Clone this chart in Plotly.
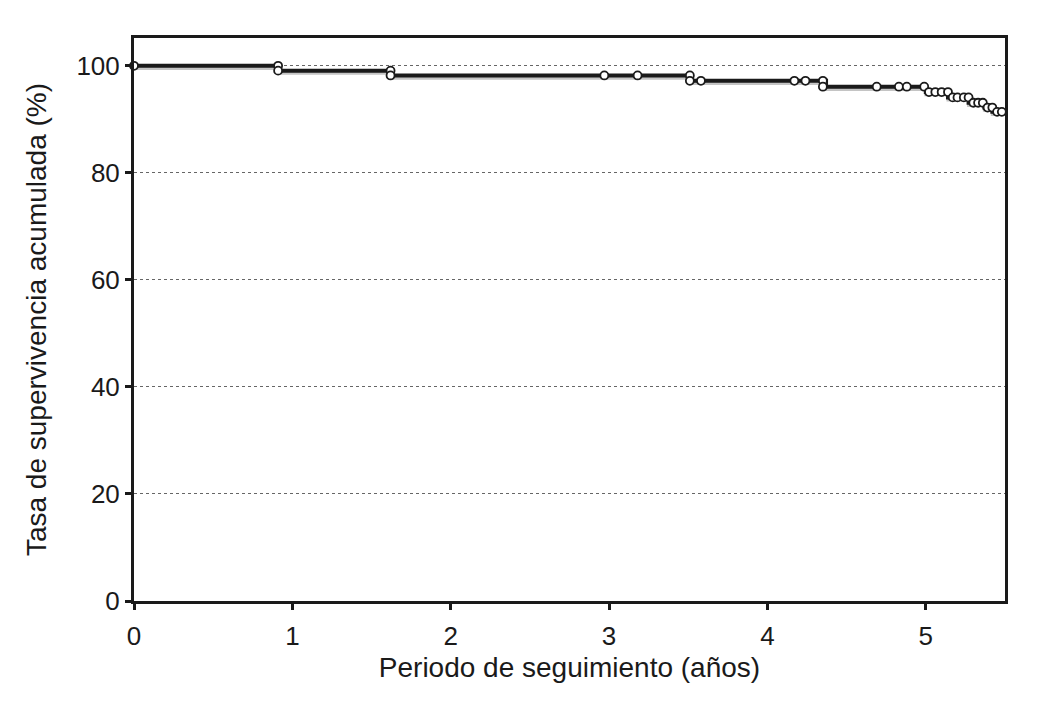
import plotly.graph_objects as go

# Kaplan-Meier step curve: event times (years) and survival (%) after each step
step_times = [0.0, 0.91, 1.62, 3.52, 4.37, 5.00, 5.14, 5.27, 5.37, 5.42, 5.50]
step_surv = [100.0, 99.1, 98.2, 97.2, 96.1, 95.1, 94.1, 93.1, 92.2, 91.4, 91.4]

# Censored observations (markers)
cens_times = [0.0, 0.91, 0.91, 1.62, 1.62, 2.97, 3.18, 3.51, 3.51, 3.58,
              4.17, 4.24, 4.35, 4.35, 4.69, 4.83, 4.88, 4.99, 5.02, 5.06,
              5.10, 5.14, 5.17, 5.20, 5.24, 5.27, 5.30, 5.33, 5.36, 5.39,
              5.42, 5.45, 5.48]
cens_surv = [100.0, 100.0, 99.1, 99.1, 98.2, 98.2, 98.2, 98.2, 97.2, 97.2,
             97.2, 97.2, 97.2, 96.1, 96.1, 96.1, 96.1, 96.1, 95.1, 95.1,
             95.1, 95.1, 94.1, 94.1, 94.1, 94.1, 93.1, 93.1, 93.1, 92.2,
             92.2, 91.4, 91.4]

y_ticks = [0, 20, 40, 60, 80, 100]
x_ticks = [0, 1, 2, 3, 4, 5]

FONT = "Liberation Sans, Arial, sans-serif"

fig = go.Figure()

# light gray shadow under the curve
fig.add_trace(go.Scatter(
    x=step_times, y=[v - 0.5 for v in step_surv], mode="lines",
    line=dict(color="#c4c4c4", width=3, shape="hv"),
    hoverinfo="skip", showlegend=False))

fig.add_trace(go.Scatter(
    x=step_times, y=step_surv, mode="lines",
    line=dict(color="#1a1a1a", width=4, shape="hv"),
    showlegend=False))

fig.add_trace(go.Scatter(
    x=cens_times, y=cens_surv, mode="markers",
    marker=dict(symbol="circle", size=8, color="white",
                line=dict(color="#1a1a1a", width=1.8)),
    cliponaxis=False, showlegend=False))

# page body has an 8px default margin; margins compensate for it
fig.update_layout(
    width=1041, height=704,
    margin=dict(l=126, r=44, t=30, b=111),
    paper_bgcolor="white", plot_bgcolor="white",
    font=dict(family=FONT, size=20, color="#1a1a1a"),
    showlegend=False,
)

fig.update_xaxes(
    range=[0, 5.5], tickvals=x_ticks, ticktext=[str(t) for t in x_ticks],
    showgrid=False, zeroline=False,
    showline=True, linecolor="#1a1a1a", linewidth=3, mirror=True,
    ticks="outside", ticklen=6, tickwidth=3, tickcolor="#1a1a1a",
    ticklabelstandoff=4,
    tickfont=dict(size=26, family=FONT),
    title=dict(text="Periodo de seguimiento (años)", font=dict(size=28, family=FONT), standoff=8),
)

fig.update_yaxes(
    range=[0, 105.2], tickvals=y_ticks, ticktext=[str(t) for t in y_ticks],
    showgrid=True, gridcolor="#666666", griddash="dot", gridwidth=1,
    zeroline=False,
    showline=True, linecolor="#1a1a1a", linewidth=3, mirror=True,
    ticks="outside", ticklen=6, tickwidth=3, tickcolor="#1a1a1a",
    tickfont=dict(size=26, family=FONT),
    title=dict(text="Tasa de supervivencia acumulada (%)", font=dict(size=28, family=FONT), standoff=22),
)

fig.write_html("out.html")
